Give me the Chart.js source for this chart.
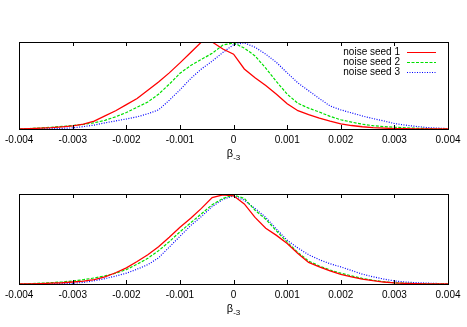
<!DOCTYPE html>
<html>
<head>
<meta charset="utf-8">
<script src="https://cdn.jsdelivr.net/npm/chart.js@4"></script>
<style>
body { margin: 0; background: #fff; }
#wrap { position: relative; width: 467px; height: 327px; }
.box { position: absolute; left: 0; width: 467px; }
</style>
</head>
<body>
<div id="wrap">
    <div class="box" style="top:0;height:163px;"><canvas id="graficoTopo" width="467" height="163"></canvas></div>
    <div class="box" style="top:163px;height:164px;"><canvas id="graficoBase" width="467" height="164"></canvas></div>
</div>
<script>
// beta_-3 grid (x 1e-3)
const betaX = [-4.0,-3.8,-3.6,-3.4,-3.2,-3.0,-2.8,-2.6,-2.4,-2.2,-2.0,-1.8,-1.6,-1.4,-1.2,-1.0,-0.8,-0.6,-0.4,-0.2,
    0.0,0.2,0.4,0.6,0.8,1.0,1.2,1.4,1.6,1.8,2.0,2.2,2.4,2.6,2.8,3.0,3.2,3.4,3.6,3.8,4.0];

const seriesLabels = ["noise seed 1", "noise seed 2", "noise seed 3"];
const xTicks = [-0.004, -0.003, -0.002, -0.001, 0, 0.001, 0.002, 0.003, 0.004];

// painel de cima
const topoSeed1 = [0,0.004,0.009,0.015,0.024,0.035,0.055,0.09,0.15,0.21,0.28,0.35,0.445,0.54,0.645,0.76,0.88,1.0,1.0,0.92,
    0.86,0.69,0.59,0.50,0.40,0.29,0.21,0.165,0.125,0.09,0.06,0.04,0.026,0.016,0.01,0.005,0.003,0.002,0.001,0.0005,0];
const topoSeed2 = [0,0.006,0.012,0.02,0.03,0.04,0.053,0.072,0.1,0.14,0.19,0.25,0.31,0.40,0.515,0.64,0.73,0.80,0.87,0.965,
    0.99,0.93,0.84,0.70,0.545,0.40,0.295,0.24,0.195,0.145,0.106,0.08,0.055,0.038,0.028,0.02,0.014,0.009,0.005,0.002,0];
const topoSeed3 = [0,0.002,0.004,0.006,0.008,0.013,0.028,0.045,0.07,0.093,0.115,0.14,0.175,0.22,0.33,0.45,0.58,0.69,0.78,0.88,
    0.97,0.99,0.94,0.86,0.765,0.645,0.53,0.44,0.35,0.265,0.22,0.185,0.15,0.12,0.093,0.063,0.045,0.03,0.017,0.01,0.005];

// painel de baixo
const baseSeed1 = [0,0.002,0.005,0.009,0.014,0.022,0.032,0.048,0.08,0.125,0.18,0.25,0.325,0.415,0.52,0.63,0.73,0.84,0.96,0.99,
    0.98,0.89,0.74,0.62,0.54,0.45,0.34,0.24,0.19,0.145,0.106,0.08,0.055,0.037,0.022,0.012,0.007,0.004,0.002,0.001,0];
const baseSeed2 = [0,0.004,0.009,0.015,0.023,0.034,0.048,0.067,0.09,0.12,0.16,0.22,0.285,0.37,0.47,0.58,0.68,0.78,0.88,0.95,
    0.99,0.95,0.82,0.72,0.59,0.465,0.35,0.255,0.2,0.155,0.12,0.09,0.062,0.042,0.025,0.013,0.008,0.005,0.003,0.001,0];
const baseSeed3 = [0,0.001,0.002,0.003,0.004,0.008,0.018,0.036,0.06,0.088,0.12,0.165,0.215,0.29,0.41,0.53,0.65,0.75,0.86,0.94,
    0.98,0.93,0.84,0.74,0.61,0.485,0.40,0.325,0.27,0.225,0.19,0.15,0.11,0.08,0.055,0.034,0.022,0.015,0.01,0.006,0.003];

const cores = ["#ff0000", "#00e000", "#0000ff"];
const tracos = [[], [3, 1.5], [1, 1.5]];
const fonte = "Liberation Sans, Arial, sans-serif";

function pontos(ys) {
    return betaX.map((x, i) => ({ x: x / 1000, y: ys[i] }));
}

// moldura, ticks para dentro, titulo beta_-3 e legenda
const moldura = {
    id: "moldura",
    afterDatasetsDraw(chart, args, opts) {
        const ctx = chart.ctx;
        const a = chart.chartArea;
        const sx = chart.scales.x;
        ctx.save();
        ctx.strokeStyle = "#000";
        ctx.lineWidth = 1;
        ctx.setLineDash([]);
        xTicks.forEach(v => {
            const px = Math.round(sx.getPixelForValue(v)) + 0.5;
            ctx.beginPath();
            ctx.moveTo(px, a.bottom);
            ctx.lineTo(px, a.bottom - 4);
            ctx.moveTo(px, a.top);
            ctx.lineTo(px, a.top + 4);
            ctx.stroke();
        });
        ctx.strokeRect(Math.round(a.left) + 0.5, Math.round(a.top) + 0.5,
            Math.round(a.right - a.left), Math.round(a.bottom - a.top));

        // titulo do eixo
        const cx = sx.getPixelForValue(0);
        ctx.fillStyle = "#000";
        ctx.textBaseline = "alphabetic";
        ctx.textAlign = "left";
        ctx.font = "11px " + fonte;
        const wb = ctx.measureText("β").width;
        ctx.font = "8px " + fonte;
        const ws = ctx.measureText("-3").width;
        const x0 = cx - (wb + ws) / 2;
        ctx.font = "11px " + fonte;
        ctx.fillText("β", x0, a.bottom + opts.tituloY);
        ctx.font = "8px " + fonte;
        ctx.fillText("-3", x0 + wb, a.bottom + opts.tituloY + 3);

        if (opts.legenda) {
            ctx.font = "10px " + fonte;
            ctx.textAlign = "right";
            ctx.textBaseline = "middle";
            chart.data.datasets.forEach((ds, i) => {
                const y = Math.round(a.top + 10 + i * 10) + 0.5;
                ctx.fillStyle = "#000";
                ctx.fillText(ds.label, a.right - 48, y);
                ctx.strokeStyle = cores[i];
                ctx.lineWidth = 1;
                ctx.setLineDash(tracos[i]);
                ctx.beginPath();
                ctx.moveTo(a.right - 41, y);
                ctx.lineTo(a.right - 12, y);
                ctx.stroke();
            });
        }
        ctx.restore();
    }
};

function criarGrafico(id, series, padding, tituloY, legenda) {
    new Chart(document.getElementById(id).getContext("2d"), {
        type: "line",
        data: {
            datasets: series.map((ys, i) => ({
                label: seriesLabels[i],
                data: pontos(ys),
                borderColor: cores[i],
                borderWidth: i === 0 ? 1.3 : 1.2,
                borderDash: tracos[i],
                pointRadius: 0,
                tension: 0,
                fill: false
            }))
        },
        options: {
            responsive: false,
            animation: false,
            layout: { padding: padding },
            plugins: {
                legend: { display: false },
                tooltip: { enabled: false },
                moldura: { tituloY: tituloY, legenda: legenda }
            },
            scales: {
                x: {
                    type: "linear",
                    min: -0.004,
                    max: 0.004,
                    afterBuildTicks: axis => { axis.ticks = xTicks.map(v => ({ value: v })); },
                    ticks: {
                        color: "#000",
                        font: { family: fonte, size: 10 },
                        padding: 5,
                        maxRotation: 0,
                        autoSkip: false,
                        callback: v => String(Math.round(v * 1000) / 1000)
                    },
                    grid: { display: false, drawTicks: false },
                    border: { display: false }
                },
                y: {
                    display: false,
                    min: 0,
                    max: 1
                }
            }
        },
        plugins: [moldura]
    });
}

criarGrafico("graficoTopo", [topoSeed1, topoSeed2, topoSeed3],
    { left: 16, right: 19, top: 42, bottom: 12 }, 28, true);
criarGrafico("graficoBase", [baseSeed1, baseSeed2, baseSeed3],
    { left: 16, right: 19, top: 31, bottom: 21 }, 28, false);
</script>
</body>
</html>
